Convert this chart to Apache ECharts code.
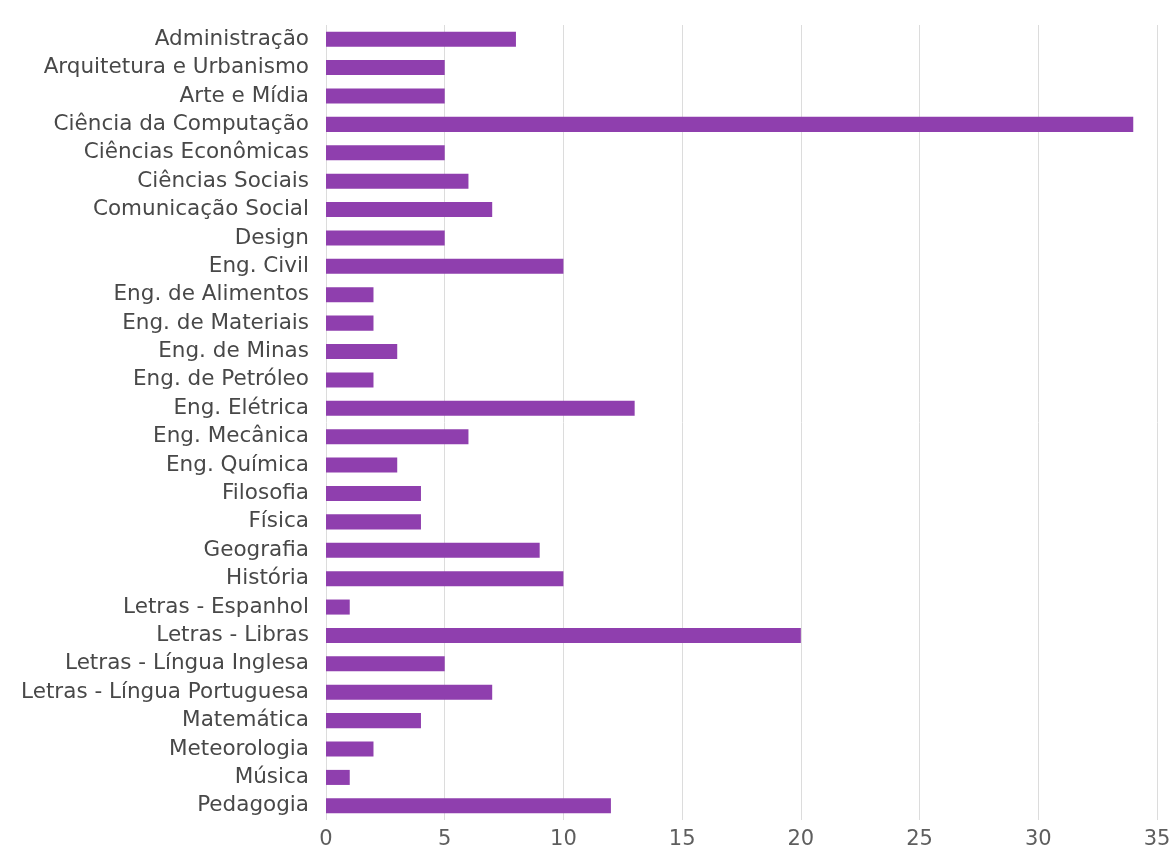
<!DOCTYPE html>
<html><head><meta charset="utf-8">
<script src="https://cdn.jsdelivr.net/npm/echarts@6/dist/echarts.min.js"></script>
<style>html,body{margin:0;padding:0;background:#fff}#c{width:1174px;height:850px}</style>
</head><body><div id="c"></div>
<script>
const categories = ["Administração","Arquitetura e Urbanismo","Arte e Mídia","Ciência da Computação","Ciências Econômicas","Ciências Sociais","Comunicação Social","Design","Eng. Civil","Eng. de Alimentos","Eng. de Materiais","Eng. de Minas","Eng. de Petróleo","Eng. Elétrica","Eng. Mecânica","Eng. Química","Filosofia","Física","Geografia","História","Letras - Espanhol","Letras - Libras","Letras - Língua Inglesa","Letras - Língua Portuguesa","Matemática","Meteorologia","Música","Pedagogia"];
const values = [8,5,5,34,5,6,7,5,10,2,2,3,2,13,6,3,4,4,9,10,1,20,5,7,4,2,1,12];
const xTicks = {min:0, max:35, interval:5};

const chart = echarts.init(document.getElementById('c'));
chart.setOption({
  animation:false,
  grid:{left:326,right:17,top:25,bottom:26,containLabel:false},
  xAxis:{type:'value',min:xTicks.min,max:xTicks.max,interval:xTicks.interval,
    axisLine:{show:false},axisTick:{show:false},
    splitLine:{show:true,lineStyle:{color:'#dcdcdc',width:1}},
    axisLabel:{color:'#5e5e5e',fontSize:21,fontFamily:'DejaVu Sans, sans-serif',margin:9}},
  yAxis:{type:'category',data:categories,inverse:true,
    axisLine:{show:false},axisTick:{show:false},
    axisLabel:{interval:0,hideOverlap:false,color:'#484848',fontSize:21.5,lineHeight:22,fontFamily:'DejaVu Sans, sans-serif',margin:17}},
  series:[{type:'bar',data:values,barCategoryGap:'47%',
    itemStyle:{color:'#8f3fae'}}]
});
</script></body></html>
